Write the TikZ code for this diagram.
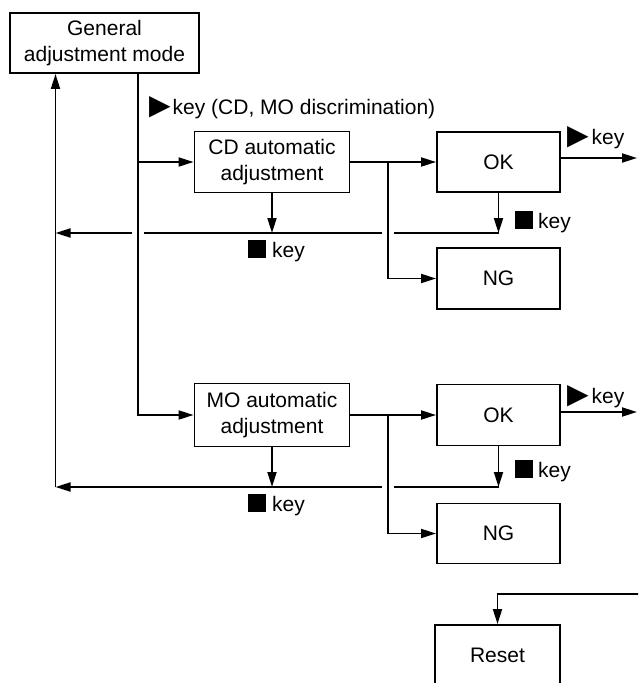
\documentclass[tikz,border=0pt]{standalone}
\usepackage{fontspec}
\setmainfont{Liberation Sans}
\newfontfamily\symf{DejaVu Sans}
\usetikzlibrary{arrows.meta,calc}
\newcommand\tri{{\symf\fontsize{28}{28}\selectfont ▶}}
\newcommand\sq{\rule[-1pt]{18pt}{18pt}}
\begin{document}
\begin{tikzpicture}[x=1pt,y=-1pt,
  box/.style={draw, line width=1.9pt, inner sep=0pt, align=center, font=\fontsize{21}{26}\selectfont},
  lab/.style={anchor=base west, inner sep=0pt, font=\fontsize{21}{26}\selectfont},
  ln/.style={line width=1.9pt},
  arr/.style={ln, -{Triangle[length=15pt,width=9pt]}}]
\useasboundingbox (0,0) rectangle (638,683);
\clip (0,0) rectangle (638,683);
% boxes
\node[box, minimum width=189pt, minimum height=60pt] (gen) at (104.5,43) {General\\adjustment mode};
\node[box, minimum width=155pt, minimum height=61pt] (cd) at (272,162) {CD automatic\\adjustment};
\node[box, minimum width=123pt, minimum height=60pt] (ok1) at (498.5,162) {OK};
\node[box, minimum width=123pt, minimum height=61pt] (ng1) at (498.5,278.5) {NG};
\node[box, minimum width=155pt, minimum height=63pt] (mo) at (272,415) {MO automatic\\adjustment};
\node[box, minimum width=123pt, minimum height=61pt] (ok2) at (498.5,415) {OK};
\node[box, minimum width=123pt, minimum height=60pt] (ng2) at (498.5,533.5) {NG};
\node[box, minimum width=125pt, minimum height=61pt] (reset) at (497.5,655.5) {Reset};
% coordinates
\coordinate (tL) at (55.5,487);
\coordinate (mx) at (138,73);
\coordinate (bx) at (388,0);
\coordinate (r1) at (499,233);
\coordinate (r2) at (499,487);
\coordinate (e1) at (637,158);
\coordinate (e2) at (637,412);
\coordinate (rs) at (640,594);
% left return
\draw[arr] (tL) -- (tL |- gen.south);
% main feed
\draw[arr] (mx) |- (mo.west);
\draw[arr] (cd.west -| mx) -- (cd.west);
% CD row
\draw[arr] (cd.south) -- (cd.south |- r1);
\draw[arr] (cd.east) -- (ok1.west);
\draw[arr] (cd.east -| bx) |- (ng1.west);
\draw[arr] (ok1.south) -- (ok1.south |- r1);
\draw[arr] (ok1.east |- e1) -- (e1);
\draw[ln] (ok1.south |- r1) -- ($(bx |- r1)+(6,0)$);
\draw[ln] ($(bx |- r1)+(-6,0)$) -- ($(mx |- r1)+(6,0)$);
\draw[arr] ($(mx |- r1)+(-6,0)$) -- (tL |- r1);
% MO row
\draw[arr] (mo.south) -- (mo.south |- r2);
\draw[arr] (mo.east) -- (ok2.west);
\draw[arr] (mo.east -| bx) |- (ng2.west);
\draw[arr] (ok2.south) -- (ok2.south |- r2);
\draw[arr] (ok2.east |- e2) -- (e2);
\draw[ln] (ok2.south |- r2) -- ($(bx |- r2)+(6,0)$);
\draw[arr] ($(bx |- r2)+(-6,0)$) -- (tL);
% reset
\draw[arr] (rs) -| (reset.north);
% labels
\node[lab] (l0) at (149,114) {\tri\hspace{2pt}key (CD, MO discrimination)};
\node[lab] (l1) at (248,257) {\sq\hspace{6pt}key};
\node[lab] (l2) at (248,511) {\sq\hspace{6pt}key};
\node[lab] (l3) at (515,228) {\sq\hspace{5pt}key};
\node[lab] (l4) at (515,477) {\sq\hspace{5pt}key};
\node[lab] (l5) at (567,144) {\tri\hspace{3pt}key};
\node[lab] (l6) at (567,403) {\tri\hspace{3pt}key};
\end{tikzpicture}
\end{document}
